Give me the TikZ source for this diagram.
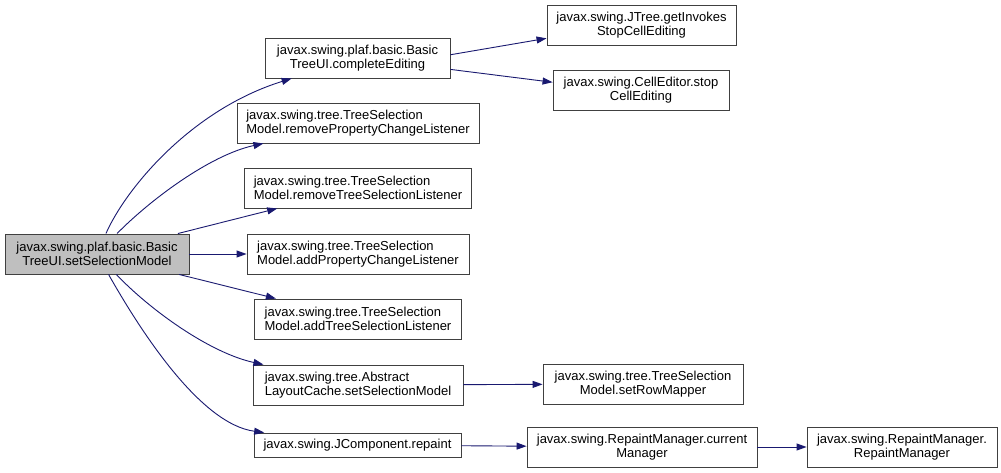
\documentclass[tikz,border=0pt]{standalone}
\usepackage{fontspec}
\setmainfont{Liberation Sans}
\usetikzlibrary{arrows.meta, calc}
\definecolor{edgeblue}{HTML}{191970}
\definecolor{boxline}{HTML}{404040}
\definecolor{curfill}{HTML}{BFBFBF}

\begin{document}
\begin{tikzpicture}[x=1pt, y=-1pt]
	% 定义样式
	\tikzset{
		fn/.style={
			draw=boxline, line width=0.9pt, fill=white,
			inner sep=0pt, minimum height=40pt,
			font=\fontsize{13}{13.5}\selectfont, align=center
		},
		fnl/.style={fn, align=left},
		cur/.style={fn, fill=curfill},
		call/.style={
			draw=edgeblue, line width=0.9pt,
			-{Triangle[length=10pt, width=7pt]}
		}
	}
	
	\useasboundingbox[fill=white] (0,0) rectangle (1001,473);
	
	% 当前函数
	\node[cur, minimum width=184pt] (root) at (97,254) {javax.swing.plaf.basic.Basic\\TreeUI.setSelectionModel};
	
	% 第一层调用
	\node[fn, minimum width=185pt] (complete) at (357.5,58) {javax.swing.plaf.basic.Basic\\TreeUI.completeEditing};
	\foreach \nm/\y/\w/\t in {rmprop/123/242/removePropertyChangeListener,
		rmtree/188/227/removeTreeSelectionListener,
		addprop/254/222/addPropertyChangeListener,
		addtree/319/207/addTreeSelectionListener} {
		\node[fnl, minimum width=\w pt] (\nm) at (358,\y) {javax.swing.tree.TreeSelection\\Model.\t};
	}
	\node[fnl, minimum width=210pt] (layout) at (358,385) {javax.swing.tree.Abstract\\LayoutCache.setSelectionModel};
	\node[fn, minimum width=207pt, minimum height=24pt] (repaint) at (357.5,445) {javax.swing.JComponent.repaint};
	
	% 第二层、第三层调用
	\node[fn, minimum width=189pt] (invokes) at (641.5,25) {javax.swing.JTree.getInvokes\\StopCellEditing};
	\node[fn, minimum width=176pt] (stop) at (641,90) {javax.swing.CellEditor.stop\\CellEditing};
	\node[fn, minimum width=200pt] (rowmap) at (643,384) {javax.swing.tree.TreeSelection\\Model.setRowMapper};
	\node[fn, minimum width=230pt] (current) at (642,447) {javax.swing.RepaintManager.current\\Manager};
	\node[fn, minimum width=190pt] (rmgr) at (902,447) {javax.swing.RepaintManager.\\RepaintManager};
	
	% 调用关系
	\draw[call] (root) .. controls (125,190) and (190,110) .. (complete);
	\draw[call] (root) .. controls (150,200) and (210,155) .. (rmprop);
	\draw[call] (root) -- (rmtree);
	\draw[call] (root) -- (addprop);
	\draw[call] (root) -- (addtree);
	\draw[call] (root) .. controls (150,310) and (210,353) .. (layout);
	\draw[call] (root) .. controls (140,330) and (200,424) .. (repaint);
	\draw[call] (complete.2) -- (invokes.188);
	\draw[call] (complete.-7) -- (stop.175);
	\draw[call] (layout) -- (rowmap);
	\draw[call] (repaint) -- (current);
	\draw[call] (current) -- (rmgr);
\end{tikzpicture}
\end{document}
